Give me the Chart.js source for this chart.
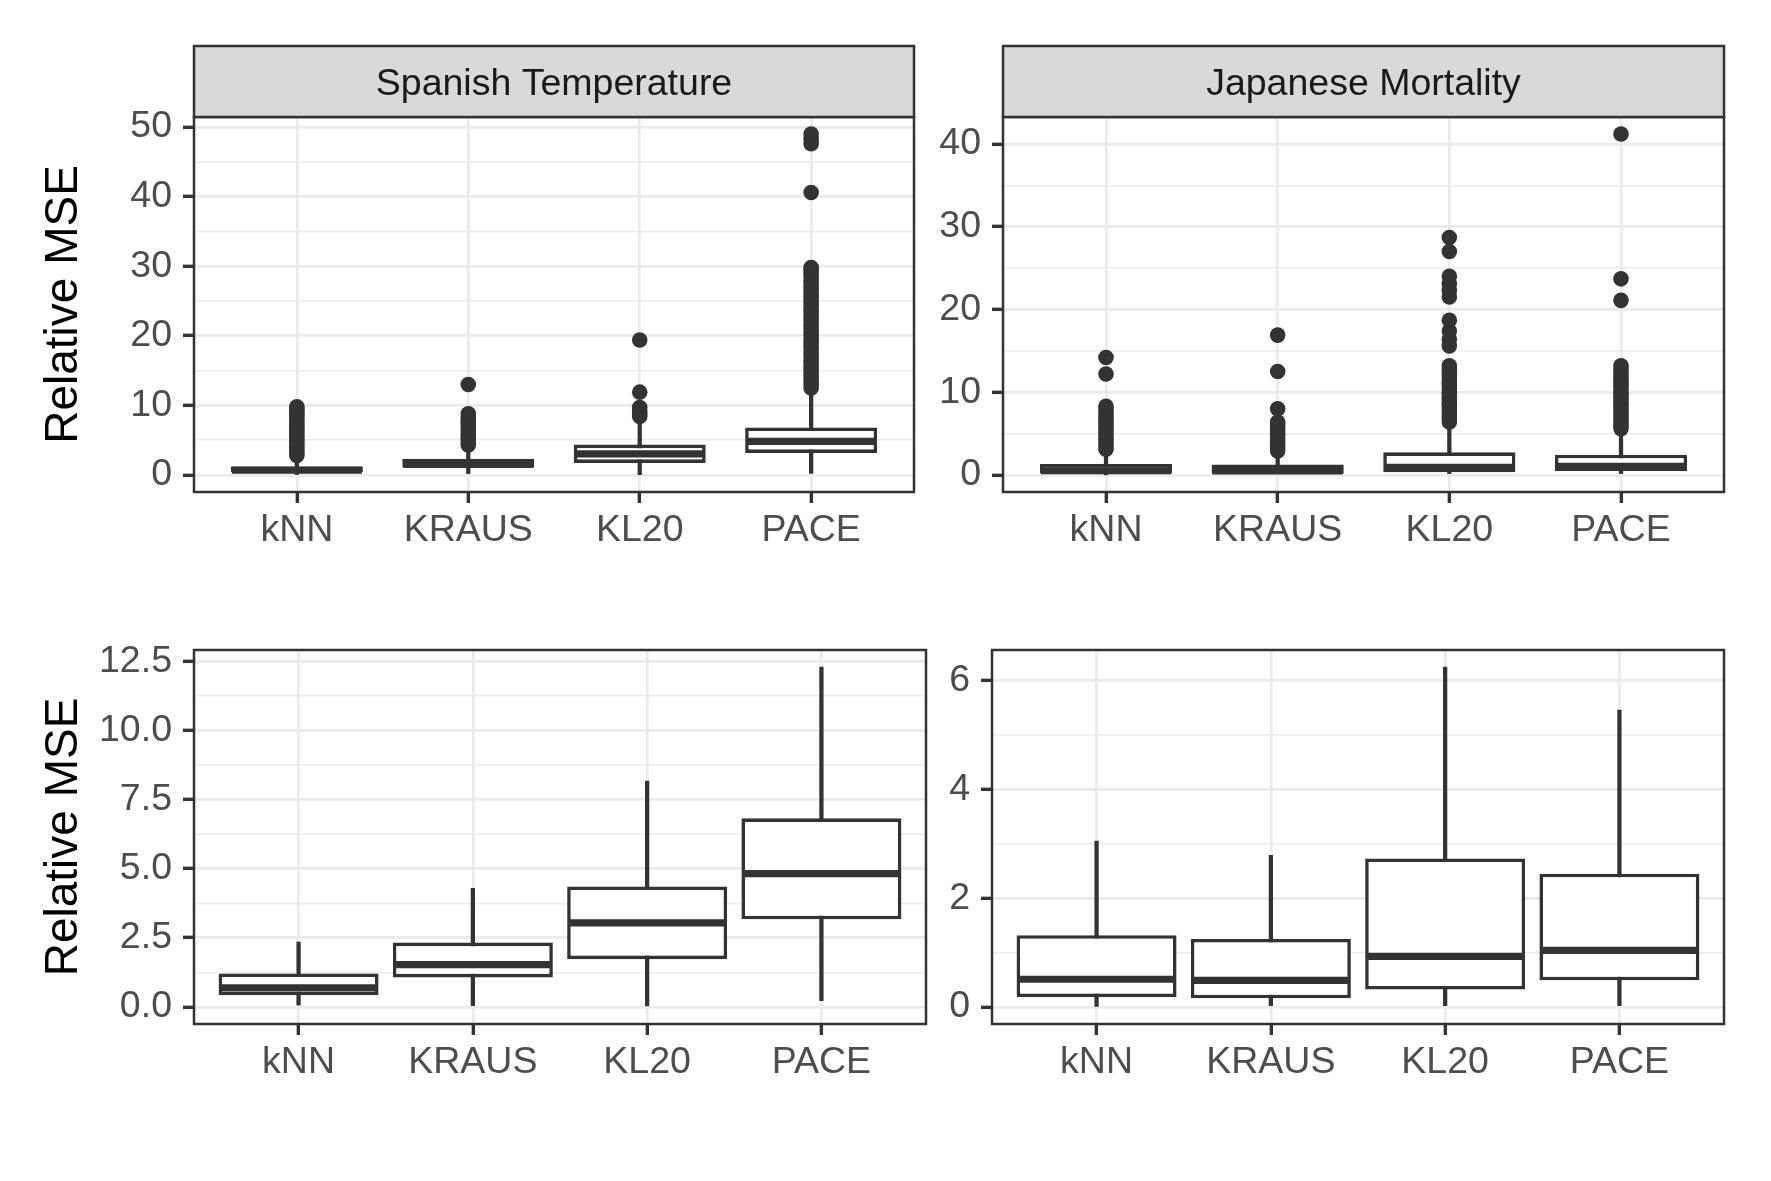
<!DOCTYPE html>
<html lang="en">
<head>
<meta charset="UTF-8">
<title>Relative MSE boxplots</title>
<script src="https://cdn.jsdelivr.net/npm/chart.js"></script>
<style>
    body {
        margin: 0;
        background-color: #ffffff;
    }
    #wrap {
        position: relative;
        width: 1771px;
        height: 1181px;
        background: #fff;
    }
    canvas {
        position: absolute;
    }
</style>
</head>
<body>
<div id="wrap">
    <canvas id="spanishAll" width="930" height="590" style="left:0px;top:0px"></canvas>
    <canvas id="japaneseAll" width="841" height="590" style="left:930px;top:0px"></canvas>
    <canvas id="spanishBox" width="940" height="500" style="left:0px;top:600px"></canvas>
    <canvas id="japaneseBox" width="841" height="500" style="left:930px;top:600px"></canvas>
</div>

<script>
    // categories (positions 1..4 on the x axis)
    const methods = ['kNN', 'KRAUS', 'KL20', 'PACE'];
    const methodPos = [1, 2, 3, 4];

    // Spanish Temperature: box statistics
    const spLow = [0.07, 0.0, 0.04, 0.23];
    const spQ1 = [0.42, 1.07, 1.73, 3.17];
    const spMed = [0.69, 1.53, 3.04, 4.82];
    const spQ3 = [1.21, 2.33, 4.36, 6.82];
    const spHigh = [2.35, 4.29, 8.17, 12.29];

    // Spanish Temperature: outliers per method
    const spOutKnn = [2.8, 3.2, 3.6, 4.0, 4.4, 4.8, 5.2, 5.6, 6.0, 6.4, 6.8, 7.2, 7.6, 8.0, 8.4, 8.8, 9.2, 9.5, 9.8];
    const spOutKraus = [4.3, 4.7, 5.1, 5.5, 5.9, 6.3, 6.7, 7.1, 7.5, 7.9, 8.3, 8.8, 13.0];
    const spOutKl20 = [8.4, 8.8, 9.2, 9.7, 11.9, 19.4];
    const spOutPace = [12.5, 13.0, 13.5, 14.0, 14.5, 15.0, 15.5, 16.0, 16.5, 17.0, 17.5, 18.0, 18.5, 19.0,
        19.5, 20.0, 20.5, 21.0, 21.5, 22.0, 22.5, 23.0, 23.5, 24.0, 24.5, 25.0, 25.5, 26.0, 26.5, 27.0,
        27.5, 28.0, 28.5, 29.0, 29.4, 29.8, 40.6, 47.6, 48.2, 49.0];

    // Japanese Mortality: box statistics
    const jpLow = [0.01, 0.0, 0.0, 0.0];
    const jpQ1 = [0.18, 0.16, 0.32, 0.49];
    const jpMed = [0.51, 0.49, 0.93, 1.04];
    const jpQ3 = [1.32, 1.25, 2.73, 2.45];
    const jpHigh = [3.05, 2.79, 6.25, 5.46];

    // Japanese Mortality: outliers per method
    const jpOutKnn = [3.1, 3.5, 3.9, 4.3, 4.7, 5.1, 5.5, 5.9, 6.3, 6.7, 7.1, 7.5, 7.9, 8.3, 12.2, 14.2];
    const jpOutKraus = [2.9, 3.3, 3.7, 4.1, 4.5, 4.9, 5.3, 5.7, 6.1, 6.4, 8.0, 12.5, 16.9];
    const jpOutKl20 = [6.4, 6.8, 7.2, 7.6, 8.0, 8.4, 8.8, 9.2, 9.6, 10.0, 10.4, 10.8, 11.2, 11.6, 12.0,
        12.4, 12.8, 13.2, 15.6, 16.4, 17.4, 18.7, 21.5, 22.3, 23.1, 24.0, 27.0, 28.7];
    const jpOutPace = [5.6, 6.0, 6.4, 6.8, 7.2, 7.6, 8.0, 8.4, 8.8, 9.2, 9.6, 10.0, 10.4, 10.8, 11.2,
        11.6, 12.0, 12.4, 12.8, 13.2, 21.1, 23.7, 41.2];

    // y axis ticks for each panel
    const tlMajor = [0, 10, 20, 30, 40, 50];
    const tlMinor = [5, 15, 25, 35, 45];
    const tlLabels = ['0', '10', '20', '30', '40', '50'];
    const trMajor = [0, 10, 20, 30, 40];
    const trMinor = [5, 15, 25, 35];
    const trLabels = ['0', '10', '20', '30', '40'];
    const blMajor = [0, 2.5, 5, 7.5, 10, 12.5];
    const blMinor = [1.25, 3.75, 6.25, 8.75, 11.25];
    const blLabels = ['0.0', '2.5', '5.0', '7.5', '10.0', '12.5'];
    const brMajor = [0, 2, 4, 6];
    const brMinor = [1, 3, 5];
    const brLabels = ['0', '2', '4', '6'];

    const FONT = '"Liberation Sans", Arial, sans-serif';
    const DARK = '#333333';

    // draws the panel border and the grey facet strip
    const panelDecor = {
        id: 'panelDecor',
        afterDraw(chart, args, opts) {
            const { ctx, chartArea: a } = chart;
            ctx.save();
            ctx.strokeStyle = DARK;
            ctx.lineWidth = 2.5;
            ctx.strokeRect(a.left, a.top, a.right - a.left, a.bottom - a.top);
            if (opts.strip) {
                const h = 71;
                ctx.fillStyle = '#D9D9D9';
                ctx.fillRect(a.left, a.top - h, a.right - a.left, h);
                ctx.strokeRect(a.left, a.top - h, a.right - a.left, h);
                ctx.fillStyle = '#1A1A1A';
                ctx.font = '37.5px ' + FONT;
                ctx.textAlign = 'center';
                ctx.textBaseline = 'middle';
                ctx.fillText(opts.strip, (a.left + a.right) / 2, a.top - h / 2 + 3);
            }
            ctx.restore();
        }
    };

    // builds a boxplot panel from the arrays
    function drawPanel(id, p) {
        const boxes = methodPos.map((x, i) => ({ x: x, y: [p.q1[i], p.q3[i]] }));
        const whiskers = methodPos.map((x, i) => ({ x: x, y: [p.low[i], p.high[i]] }));
        const medians = methodPos.map((x, i) => ({ x: x, y: p.med[i] }));
        const outliers = [];
        (p.out || []).forEach((list, i) => list.forEach(v => outliers.push({ x: methodPos[i], y: v })));

        const halfBox = (ctx) => {
            const s = ctx.chart.scales.x;
            return Math.abs(s.getPixelForValue(1 + p.boxFrac / 2) - s.getPixelForValue(1)) - 1;
        };

        new Chart(document.getElementById(id), {
            type: 'bar',
            data: {
                datasets: [
                    {
                        type: 'scatter', data: outliers, order: 0,
                        pointRadius: 7.8, pointHoverRadius: 7.8,
                        backgroundColor: DARK, borderWidth: 0
                    },
                    {
                        type: 'scatter', data: medians, order: 1,
                        pointStyle: 'line', pointRadius: halfBox, pointHoverRadius: halfBox,
                        borderColor: DARK, borderWidth: 7.2
                    },
                    {
                        type: 'bar', data: boxes, order: 2, grouped: false,
                        backgroundColor: '#ffffff', borderColor: DARK, borderWidth: 3.6,
                        borderSkipped: false, barPercentage: p.boxFrac, categoryPercentage: 1
                    },
                    {
                        type: 'bar', data: whiskers, order: 3, grouped: false,
                        backgroundColor: DARK, borderWidth: 0, barThickness: 3.6
                    }
                ]
            },
            options: {
                responsive: false,
                animation: false,
                devicePixelRatio: 1,
                events: [],
                layout: { padding: p.padding },
                plugins: {
                    legend: { display: false },
                    tooltip: { enabled: false },
                    panelDecor: { strip: p.strip }
                },
                scales: {
                    x: {
                        type: 'linear', min: 0.4, max: 4.6, offset: false,
                        afterBuildTicks: ax => { ax.ticks = methodPos.map(v => ({ value: v })); },
                        afterFit: ax => { ax.height = p.axisH; },
                        ticks: {
                            autoSkip: false, maxRotation: 0, padding: 5, color: '#4D4D4D',
                            font: { family: FONT, size: 37.5 },
                            callback: v => methods[methodPos.indexOf(v)]
                        },
                        grid: {
                            offset: false, color: '#EBEBEB', lineWidth: 2.7,
                            tickLength: 11, tickWidth: 3.4, tickColor: DARK
                        },
                        border: { display: false }
                    },
                    y: {
                        type: 'linear', min: p.yMin, max: p.yMax,
                        afterBuildTicks: ax => {
                            ax.ticks = p.major.concat(p.minor).sort((a, b) => a - b).map(v => ({ value: v }));
                        },
                        afterFit: ax => { ax.width = p.axisW; },
                        ticks: {
                            autoSkip: false, padding: 11, color: '#4D4D4D',
                            font: { family: FONT, size: 37.5 },
                            callback: v => {
                                const i = p.major.indexOf(v);
                                return i < 0 ? '' : p.labels[i];
                            }
                        },
                        grid: {
                            color: '#EBEBEB',
                            lineWidth: ctx => p.major.includes(ctx.tick.value) ? 2.7 : 1.4,
                            tickLength: 11, tickWidth: 3.4,
                            tickColor: ctx => p.major.includes(ctx.tick.value) ? DARK : 'rgba(0,0,0,0)'
                        },
                        border: { display: false },
                        title: {
                            display: !!p.yTitle, text: p.yTitle || '', color: '#000000',
                            font: { family: FONT, size: 46 },
                            padding: { top: 37, bottom: 0 }
                        }
                    }
                }
            },
            plugins: [panelDecor]
        });
    }

    window.onload = function () {
        drawPanel('spanishAll', {
            low: spLow, q1: spQ1, med: spMed, q3: spQ3, high: spHigh,
            out: [spOutKnn, spOutKraus, spOutKl20, spOutPace],
            major: tlMajor, minor: tlMinor, labels: tlLabels,
            yMin: -2.45, yMax: 51.45, boxFrac: 0.77,
            strip: 'Spanish Temperature', yTitle: 'Relative MSE',
            padding: { top: 117, left: 0, right: 16, bottom: 0 }, axisW: 194, axisH: 98
        });
        drawPanel('japaneseAll', {
            low: jpLow, q1: jpQ1, med: jpMed, q3: jpQ3, high: jpHigh,
            out: [jpOutKnn, jpOutKraus, jpOutKl20, jpOutPace],
            major: trMajor, minor: trMinor, labels: trLabels,
            yMin: -2.06, yMax: 43.26, boxFrac: 0.77,
            strip: 'Japanese Mortality',
            padding: { top: 117, left: 0, right: 47, bottom: 0 }, axisW: 73, axisH: 98
        });
        drawPanel('spanishBox', {
            low: spLow, q1: spQ1, med: spMed, q3: spQ3, high: spHigh,
            major: blMajor, minor: blMinor, labels: blLabels,
            yMin: -0.615, yMax: 12.905, boxFrac: 0.918,
            yTitle: 'Relative MSE',
            padding: { top: 50, left: 0, right: 14, bottom: 0 }, axisW: 194, axisH: 76
        });
        drawPanel('japaneseBox', {
            low: jpLow, q1: jpQ1, med: jpMed, q3: jpQ3, high: jpHigh,
            major: brMajor, minor: brMinor, labels: brLabels,
            yMin: -0.3125, yMax: 6.5625, boxFrac: 0.918,
            padding: { top: 50, left: 0, right: 47, bottom: 0 }, axisW: 62, axisH: 76
        });
    };
</script>
</body>
</html>
